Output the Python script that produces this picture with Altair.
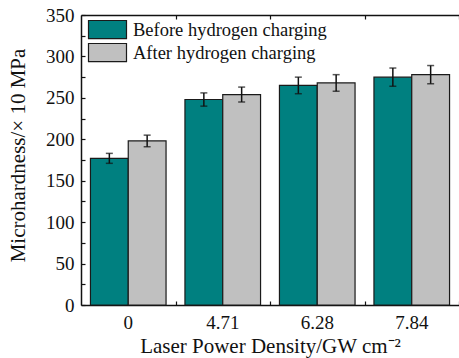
import altair as alt
import pandas as pd

densities = ["0", "4.71", "6.28", "7.84"]
series_names = ["Before hydrogen charging", "After hydrogen charging"]
before = [177, 248, 265, 275]
after = [198, 254, 268, 278]
before_err = [6, 8, 10, 11]
after_err = [7, 9, 10, 11]
y_ticks = list(range(0, 351, 50))
y_minor = list(range(0, 351, 25))

rows = []
for i, d in enumerate(densities):
    rows.append({"d": d, "s": series_names[0], "v": before[i], "e": before_err[i], "o": 0})
    rows.append({"d": d, "s": series_names[1], "v": after[i], "e": after_err[i], "o": 1})
df = pd.DataFrame(rows)
df["lo"] = df["v"] - df["e"]
df["hi"] = df["v"] + df["e"]

W, H = 378, 290
FONT = "Liberation Serif"

xscale = alt.Scale(domain=densities, paddingInner=0.2, paddingOuter=0.1)
yscale = alt.Scale(domain=[0, 350], nice=False)
color_scale = alt.Scale(domain=series_names, range=["#008080", "#c0c0c0"])

base = alt.Chart(df)

bars = base.mark_bar(stroke="#1a1a1a", strokeWidth=1.2).encode(
    x=alt.X("d:N", scale=xscale, sort=densities,
            axis=alt.Axis(title="Laser Power Density/GW  cm⁻²", labelAngle=0, tickSize=0,
                          labelPadding=8, titlePadding=3, domainColor="#111", domainWidth=1.5,
                          labelFontSize=19, titleFontSize=21, labelFont=FONT, titleFont=FONT,
                          labelColor="#111", titleColor="#111", titleFontWeight="normal")),
    xOffset=alt.XOffset("o:O"),
    y=alt.Y("v:Q", scale=yscale,
            axis=alt.Axis(title="Microhardness/× 10 MPa", values=y_ticks, tickSize=0,
                          labelPadding=7, domainColor="#111", domainWidth=1.5,
                          labelFontSize=19, titleFontSize=21, labelFont=FONT, titleFont=FONT,
                          labelColor="#111", titleColor="#111", titleFontWeight="normal",
                          titleX=-63, titleY=140, titleAngle=-90, titleBaseline="middle",
                          titleAlign="center")),
    fill=alt.Fill("s:N", scale=color_scale, sort=series_names,
                  legend=alt.Legend(title=None, orient="none", legendX=16, legendY=4,
                                    padding=0, labelFont=FONT, labelFontSize=18.5, labelLimit=0,
                                    labelColor="#111", labelOffset=15, rowPadding=0,
                                    symbolType="M-2,-0.95H2V0.95H-2Z", symbolSize=361,
                                    symbolStrokeColor="#1a1a1a", symbolStrokeWidth=1.2)),
)

err = base.mark_rule(color="#111", strokeWidth=1.5).encode(
    x=alt.X("d:N", scale=xscale, sort=densities,
            axis=alt.Axis(orient="top", offset=-H, labels=False, title=None, domain=False,
                          tickSize=4, tickOffset=47.5, tickColor="#111", tickWidth=1.2)),
    xOffset=alt.XOffset("o:O"),
    y=alt.Y("lo:Q", scale=yscale,
            axis=alt.Axis(orient="right", offset=-W, labels=False, title=None, domain=False,
                          values=y_minor, tickSize=4, tickColor="#111", tickWidth=1.2)),
    y2="hi:Q",
)

cap_lo = base.mark_tick(color="#111", size=7, thickness=1.5).encode(
    x=alt.X("d:N", scale=xscale, sort=densities,
            axis=alt.Axis(orient="bottom", offset=-H, labels=False, title=None,
                          domainColor="#111", domainWidth=1.5,
                          tickSize=4, tickOffset=47.5, tickColor="#111", tickWidth=1.2)),
    xOffset=alt.XOffset("o:O"),
    y=alt.Y("lo:Q", scale=yscale, axis=None),
)

cap_hi = base.mark_tick(color="#111", size=7, thickness=1.5).encode(
    x=alt.X("d:N", scale=xscale, sort=densities, axis=None),
    xOffset=alt.XOffset("o:O"),
    y=alt.Y("hi:Q", scale=yscale, axis=None),
)

chart = alt.layer(bars, err, cap_lo, cap_hi).resolve_axis(
    x="independent", y="independent"
).properties(
    width=W, height=H,
    autosize=alt.AutoSizeParams(type="none"),
    padding={"left": 81, "top": 15, "right": 0, "bottom": 53},
    background="white",
).configure_view(stroke=None).configure_axis(grid=False)

chart.save("out.html", embed_options={"renderer": "svg", "actions": False})
